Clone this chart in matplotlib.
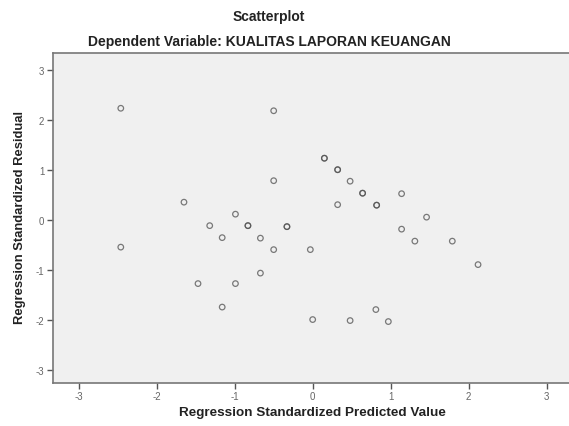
import matplotlib.pyplot as plt

plt.rcParams['font.family'] = ['Liberation Sans', 'DejaVu Sans']
plt.rcParams['axes.unicode_minus'] = False

# standardized predicted values and residuals (darker marks = overlapping cases)
pred = [-2.46, -0.50, -0.50, -1.65, -0.99, -1.32, -0.83, -0.83, -0.33, -0.33,
        -1.16, -0.67, -0.50, -2.46, -0.67, -0.03, 0.15, 0.15, 0.32, 0.32,
        0.48, 0.64, 0.64, 0.82, 0.82, 0.32, 1.14, 1.46, 1.14, 1.31,
        1.79, 2.12, 0.81, 0.00, 0.48, 0.97, -1.47, -0.99, -1.16]
resid = [2.23, 2.18, 0.78, 0.35, 0.11, -0.12, -0.12, -0.12, -0.14, -0.14,
         -0.36, -0.37, -0.60, -0.55, -1.07, -0.60, 1.23, 1.23, 1.00, 1.00,
         0.77, 0.53, 0.53, 0.29, 0.29, 0.30, 0.52, 0.05, -0.19, -0.43,
         -0.43, -0.90, -1.80, -2.00, -2.02, -2.04, -1.28, -1.28, -1.75]
ticks = [-3, -2, -1, 0, 1, 2, 3]

fig = plt.figure(figsize=(5.69, 4.27), dpi=100)
ax = fig.add_axes([0.0926, 0.1007, 0.91, 0.7721])
ax.set_facecolor('#f0f0f0')

ax.scatter(pred, resid, s=16, facecolors='none', edgecolors='#505050',
           linewidths=0.9, alpha=0.75)

ax.set_xlim(-3.333, 3.305)
ax.set_ylim(-3.27, 3.33)
ax.set_xticks(ticks)
ax.set_yticks(ticks)
ax.tick_params(length=4, width=1, color='#555555', labelsize=7,
               labelcolor='#666666', pad=2)
for s in ax.spines.values():
    s.set_color('#777777')
    s.set_linewidth(1.2)

fig.text(269 / 569, 1 - 17 / 427, 'Scatterplot', ha='center', va='center',
         fontsize=10, fontweight='bold', color='#222222')
fig.text(269 / 569, 1 - 42 / 427, 'Dependent Variable: KUALITAS LAPORAN KEUANGAN',
         ha='center', va='center', fontsize=10, fontweight='bold', color='#222222')
fig.text(312 / 569, 1 - 413 / 427, 'Regression Standardized Predicted Value',
         ha='center', va='center', fontsize=9.7, fontweight='bold', color='#222222')
fig.text(20 / 569, 1 - 218 / 427, 'Regression Standardized Residual',
         ha='center', va='center', rotation=90, fontsize=9.4, fontweight='bold',
         color='#222222')

fig.savefig('out.png', dpi=100)
